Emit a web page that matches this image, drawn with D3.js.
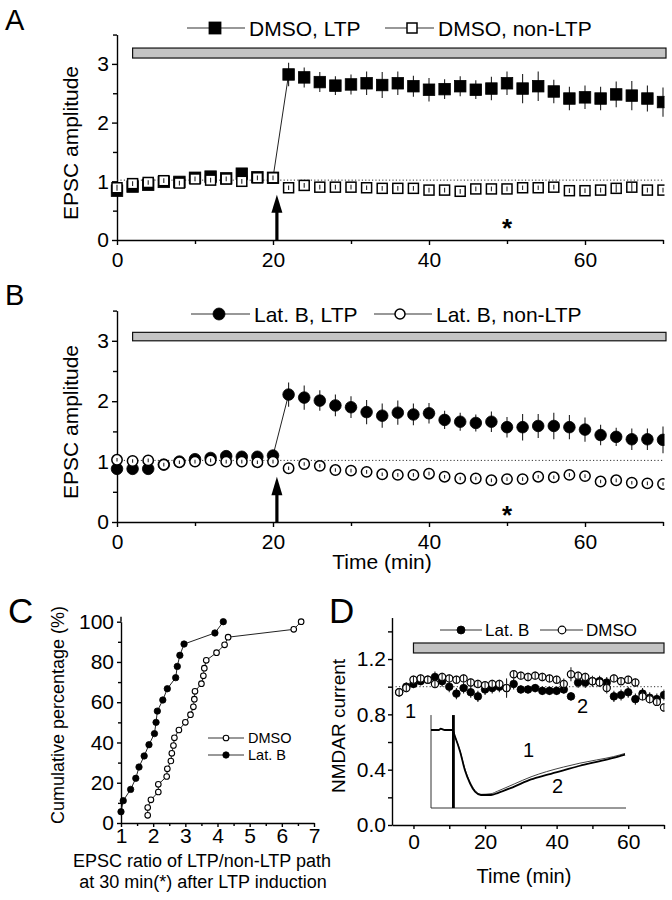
<!DOCTYPE html>
<html><head><meta charset="utf-8">
<script src="https://cdn.jsdelivr.net/npm/d3@7"></script>
<style>
body{margin:0;background:#fff}
svg{display:block}
text{font-family:"Liberation Sans",Arial,Helvetica,sans-serif;fill:#000}
</style>
</head><body>
<svg id="c" width="672" height="900"></svg>
<script>
// ---------------- DATA ----------------
const timesAB = [0,2,4,6,8,10,12,14,16,18,20,22,24,26,28,30,32,34,36,38,40,42,44,46,48,50,52,54,56,58,60,62,64,66,68,70];
const dmsoLTP    = [0.84,0.91,0.94,0.99,0.99,1.06,1.08,1.05,1.13,1.07,1.06,2.82,2.77,2.69,2.63,2.65,2.67,2.64,2.67,2.62,2.56,2.57,2.62,2.56,2.58,2.67,2.58,2.62,2.53,2.41,2.43,2.41,2.48,2.46,2.41,2.35];
const dmsoLTPerr = [0.06,0.05,0.05,0.05,0.05,0.05,0.05,0.05,0.06,0.05,0.05,0.20,0.17,0.17,0.16,0.17,0.20,0.22,0.20,0.18,0.20,0.17,0.17,0.16,0.20,0.20,0.25,0.25,0.20,0.20,0.20,0.20,0.22,0.25,0.22,0.25];
const dmsoNon    = [0.89,0.96,0.98,1.01,0.97,1.04,1.02,1.04,1.00,1.06,1.06,0.89,0.93,0.90,0.90,0.90,0.89,0.88,0.88,0.88,0.85,0.85,0.83,0.87,0.87,0.87,0.89,0.89,0.90,0.84,0.84,0.85,0.88,0.90,0.85,0.85];
const dmsoNonErr = [0.05,0.04,0.04,0.04,0.04,0.04,0.04,0.04,0.04,0.04,0.04,0.04,0.04,0.04,0.04,0.04,0.04,0.04,0.04,0.04,0.04,0.04,0.04,0.04,0.04,0.04,0.04,0.04,0.04,0.04,0.04,0.04,0.07,0.08,0.04,0.04];
const latLTP     = [0.88,0.88,0.88,0.95,1.00,1.04,1.06,1.09,1.08,1.08,1.10,2.11,2.06,2.01,1.93,1.90,1.82,1.76,1.81,1.78,1.80,1.69,1.66,1.64,1.66,1.57,1.57,1.59,1.59,1.57,1.53,1.44,1.41,1.37,1.37,1.36];
const latLTPerr  = [0.05,0.05,0.05,0.05,0.05,0.05,0.05,0.05,0.05,0.05,0.05,0.20,0.20,0.17,0.18,0.18,0.20,0.20,0.20,0.18,0.17,0.15,0.15,0.14,0.17,0.17,0.22,0.20,0.22,0.20,0.20,0.17,0.15,0.18,0.18,0.22];
const latNon     = [1.03,1.01,1.02,0.95,0.99,1.00,1.02,1.00,1.00,0.99,1.00,0.89,0.96,0.93,0.86,0.85,0.83,0.79,0.78,0.78,0.80,0.75,0.72,0.72,0.69,0.71,0.71,0.75,0.74,0.78,0.76,0.67,0.69,0.65,0.64,0.63];
const latNonErr  = [0.03,0.03,0.03,0.03,0.03,0.03,0.03,0.03,0.03,0.03,0.03,0.03,0.03,0.03,0.03,0.03,0.03,0.03,0.03,0.03,0.03,0.03,0.03,0.03,0.03,0.03,0.03,0.03,0.03,0.03,0.03,0.03,0.03,0.03,0.03,0.03];

// Panel C cumulative distributions
const cLatRatio  = [1.00,1.07,1.30,1.46,1.56,1.72,1.87,2.04,2.09,2.13,2.30,2.44,2.70,2.75,2.83,2.96,3.92,4.18];
const cLatPct    = [5.6,11.1,16.7,22.2,27.8,33.3,38.9,44.4,50.0,55.6,61.1,66.7,72.2,77.8,83.3,88.9,94.4,100];
const cDmsoRatio = [1.83,1.83,1.93,2.16,2.16,2.42,2.44,2.55,2.58,2.63,2.66,2.80,3.00,3.16,3.25,3.28,3.30,3.50,3.56,3.59,3.65,3.97,4.22,4.33,6.37,6.60];
const cDmsoPct   = [3.8,7.7,11.5,15.4,19.2,23.1,26.9,30.8,34.6,38.5,42.3,46.2,50.0,53.8,57.7,61.5,65.4,69.2,73.1,76.9,80.8,84.6,88.5,92.3,96.2,100];

// Panel D NMDAR current
const timesD  = [-4,-2,0,2,4,6,8,10,12,14,16,18,20,22,24,26,28,30,32,34,36,38,40,42,44,46,48,50,52,54,56,58,60,62,64,66,68,70];
const dLat    = [0.96,1.00,1.02,1.04,1.05,1.07,1.04,1.00,0.95,0.99,0.96,0.93,0.98,0.99,1.00,0.99,1.02,0.98,0.98,0.99,0.97,0.97,0.97,0.98,0.93,1.03,1.03,1.04,1.04,1.03,0.93,0.94,0.96,0.91,0.95,0.92,0.91,0.94];
const dLatErr = [0.03,0.03,0.03,0.03,0.03,0.04,0.04,0.04,0.04,0.04,0.04,0.04,0.04,0.04,0.04,0.06,0.04,0.03,0.03,0.03,0.03,0.03,0.03,0.03,0.03,0.04,0.04,0.04,0.04,0.04,0.04,0.04,0.04,0.04,0.04,0.04,0.04,0.04];
const dDmso   = [0.96,0.99,1.05,1.06,1.05,1.02,1.07,1.06,1.05,1.06,1.03,1.02,1.01,1.02,1.02,0.99,1.09,1.08,1.07,1.08,1.07,1.06,1.05,1.02,1.09,1.08,1.07,1.04,1.03,0.99,1.06,1.04,1.05,1.03,0.93,0.91,0.89,0.85];
const dDmsoErr= [0.03,0.03,0.03,0.03,0.03,0.03,0.03,0.03,0.03,0.03,0.03,0.03,0.03,0.03,0.03,0.07,0.03,0.03,0.03,0.03,0.03,0.03,0.03,0.04,0.05,0.03,0.03,0.03,0.03,0.04,0.03,0.03,0.03,0.03,0.03,0.03,0.03,0.03];

// Panel D inset traces (ms, normalized current)
const traceT  = [0,4,5,6,7,11,12.3,14.9,17.4,20,22.6,25.6,30.8,34.2,42.7,51.3,59.3,67.9,76.4,85,93.5,99.5];
const trace1  = [0,0,0.02,0.01,0,0,-0.10,-0.32,-0.60,-0.80,-0.93,-0.99,-0.98,-0.94,-0.83,-0.72,-0.64,-0.57,-0.51,-0.46,-0.41,-0.36];
const trace2  = [0,0,0.02,0.01,0,0,-0.10,-0.33,-0.62,-0.82,-0.95,-1.00,-1.00,-0.97,-0.87,-0.76,-0.69,-0.62,-0.55,-0.49,-0.43,-0.38];
const stimT   = 11.5;

// tick labels / annotations
const xTicksAB = [0,20,40,60], xMinorAB = [10,30,50,70];
const yTicksAB = [0,1,2,3],    yMinorAB = [0.5,1.5,2.5,3.5];
const xTicksC = [1,2,3,4,5,6,7], xMinorC = [1.5,2.5,3.5,4.5,5.5,6.5];
const yTicksC = [0,20,40,60,80,100], yMinorC = [10,30,50,70,90];
const xTicksD = [0,20,40,60], xMinorD = [10,30,50,70];
const yTicksD = [0,0.4,0.8,1.2], yMinorD = [0.2,0.6,1.0,1.4];
const drugAB = [2,70], drugD = [0,70];
const ltpTime = 20.5, starTime = 50;

// ---------------- DRAWING ----------------
const svg = d3.select('#c');

svg.append('defs').append('clipPath').attr('id','clipR')
  .append('rect').attr('x',0).attr('y',0).attr('width',664.5).attr('height',900);

function txt(x,y,s,fs,anchor){
  return svg.append('text').attr('x',x).attr('y',y).attr('font-size',fs)
    .attr('text-anchor',anchor||'start').text(s);
}
function vlabel(x,y,s,fs){
  svg.append('text').attr('transform',`translate(${x},${y}) rotate(-90)`)
    .attr('text-anchor','middle').attr('font-size',fs).text(s);
}
function styleAxis(g,fs){
  g.attr('font-family',null).attr('font-size',null);
  g.selectAll('path,line').attr('stroke','#000').attr('stroke-width',1.4);
  g.selectAll('text').attr('font-size',fs).attr('fill','#000');
}
function drawAxes(x,y,o){
  const gx = svg.append('g').attr('transform',`translate(0,${y.range()[0]})`)
    .call(d3.axisBottom(x).tickValues(o.xt).tickSize(o.ts).tickPadding(o.xp).tickSizeOuter(0).tickFormat(o.xf));
  styleAxis(gx,o.fs);
  const gxm = svg.append('g').attr('transform',`translate(0,${y.range()[0]})`)
    .call(d3.axisBottom(x).tickValues(o.xm).tickSize(o.ms).tickFormat(''));
  gxm.select('.domain').remove(); styleAxis(gxm,o.fs);
  const gy = svg.append('g').attr('transform',`translate(${x.range()[0]},0)`)
    .call(d3.axisLeft(y).tickValues(o.yt).tickSize(o.ts).tickPadding(o.yp).tickSizeOuter(0).tickFormat(o.yf));
  styleAxis(gy,o.fs);
  const gym = svg.append('g').attr('transform',`translate(${x.range()[0]},0)`)
    .call(d3.axisLeft(y).tickValues(o.ym).tickSize(o.ms).tickFormat(''));
  gym.select('.domain').remove(); styleAxis(gym,o.fs);
}
function square(g,cx,cy,s,filled){
  g.append('rect').attr('x',cx-s/2).attr('y',cy-s/2).attr('width',s).attr('height',s)
    .attr('fill',filled?'#000':'#fff').attr('stroke','#000').attr('stroke-width',filled?0.8:1.5);
}
function circle(g,cx,cy,r,filled,sw){
  g.append('circle').attr('cx',cx).attr('cy',cy).attr('r',r)
    .attr('fill',filled?'#000':'#fff').attr('stroke','#000').attr('stroke-width',filled?0.8:(sw||1.5));
}
function errbars(g,x,y,ts,vs,es){
  ts.forEach((t,i)=>{
    g.append('line').attr('x1',x(t)).attr('x2',x(t)).attr('y1',y(vs[i]-es[i])).attr('y2',y(vs[i]+es[i]))
      .attr('stroke','#222').attr('stroke-width',1.1);
  });
}
function drugBar(x,y,t0,t1,v0,v1,extra){
  svg.append('rect').attr('x',x(t0)).attr('y',y(v1)).attr('width',x(t1)-x(t0)+(extra||0)).attr('height',y(v0)-y(v1))
    .attr('fill','#c4c4c4').attr('stroke','#111').attr('stroke-width',1.2);
}
function arrow(x,y,t,v0,vBase,vTip){
  const cx=x(t);
  svg.append('rect').attr('x',cx-1.6).attr('y',y(vBase)).attr('width',3.2).attr('height',y(v0)-y(vBase)).attr('fill','#000');
  svg.append('path').attr('d',`M${cx-5.5},${y(vBase)+1}L${cx},${y(vTip)}L${cx+5.5},${y(vBase)+1}Z`).attr('fill','#000');
}
function dotted(x,y,t0,t1,v){
  svg.append('line').attr('x1',x(t0)).attr('x2',x(t1)).attr('y1',y(v)).attr('y2',y(v))
    .attr('stroke','#333').attr('stroke-width',1).attr('stroke-dasharray','1.2,2.2');
}
function star(x,y,t,v,fs){
  txt(x(t),y(v)+fs*0.58,'*',fs,'middle').attr('font-weight','bold');
}

// ============ Panel A ============
const xA = d3.scaleLinear([0,70],[117,663]);
const yA = d3.scaleLinear([0,3.5],[240,240-3.5*58.7]);
txt(5,30,'A',29);
drawAxes(xA,yA,{xt:xTicksAB,xm:xMinorAB,yt:yTicksAB,ym:yMinorAB,ts:5,ms:4,xp:7,yp:3,fs:21,xf:d3.format('d'),yf:d3.format('d')});
vlabel(78,143,'EPSC amplitude',21);
drugBar(xA,yA,drugAB[0],drugAB[1],3.1,3.27,3);
dotted(xA,yA,0,70,1.02);
arrow(xA,yA,ltpTime,0,0.48,0.77);
star(xA,yA,starTime,0.3,26);
{
  const g = svg.append('g').attr('clip-path','url(#clipR)');
  g.append('path').attr('d',d3.line()([[xA(timesAB[10]),yA(dmsoLTP[10])],[xA(timesAB[11]),yA(dmsoLTP[11])]]))
    .attr('stroke','#222').attr('stroke-width',1).attr('fill','none');
  errbars(g,xA,yA,timesAB,dmsoLTP,dmsoLTPerr);
  timesAB.forEach((t,i)=>square(g,xA(t),yA(dmsoLTP[i]),11.5,true));
  timesAB.forEach((t,i)=>square(g,xA(t),yA(dmsoNon[i]),10,false));
  errbars(g,xA,yA,timesAB,dmsoNon,dmsoNonErr);
}
{
  const ly=28;
  svg.append('line').attr('x1',187).attr('x2',245).attr('y1',ly).attr('y2',ly).attr('stroke','#333').attr('stroke-width',1.2);
  square(svg,215,ly,12,true);
  txt(249,ly+7.5,'DMSO, LTP',21);
  svg.append('line').attr('x1',385).attr('x2',434).attr('y1',ly).attr('y2',ly).attr('stroke','#333').attr('stroke-width',1.2);
  square(svg,412,ly,10,false);
  txt(438,ly+7.5,'DMSO, non-LTP',21);
}

// ============ Panel B ============
const xB = d3.scaleLinear([0,70],[117,663]);
const yB = d3.scaleLinear([0,3.5],[522,522-3.5*60.4]);
txt(5,305,'B',29);
drawAxes(xB,yB,{xt:xTicksAB,xm:xMinorAB,yt:yTicksAB,ym:yMinorAB,ts:5,ms:4,xp:7,yp:3,fs:21,xf:d3.format('d'),yf:d3.format('d')});
vlabel(78,422,'EPSC amplitude',21);
txt(382,569,'Time (min)',21,'middle');
drugBar(xB,yB,drugAB[0],drugAB[1],3.0,3.14,3);
dotted(xB,yB,0,70,1.02);
arrow(xB,yB,ltpTime,0,0.46,0.75);
star(xB,yB,starTime,0.21,26);
{
  const g = svg.append('g').attr('clip-path','url(#clipR)');
  g.append('path').attr('d',d3.line()([[xB(timesAB[10]),yB(latLTP[10])],[xB(timesAB[11]),yB(latLTP[11])]]))
    .attr('stroke','#222').attr('stroke-width',1).attr('fill','none');
  errbars(g,xB,yB,timesAB,latLTP,latLTPerr);
  timesAB.forEach((t,i)=>circle(g,xB(t),yB(latLTP[i]),5.8,true));
  timesAB.forEach((t,i)=>circle(g,xB(t),yB(latNon[i]),5.2,false));
  errbars(g,xB,yB,timesAB,latNon,latNonErr);
}
{
  const ly=314;
  svg.append('line').attr('x1',191).attr('x2',250).attr('y1',ly).attr('y2',ly).attr('stroke','#333').attr('stroke-width',1.2);
  circle(svg,219,ly,6,true);
  txt(254,ly+7.5,'Lat. B, LTP',21);
  svg.append('line').attr('x1',374).attr('x2',432).attr('y1',ly).attr('y2',ly).attr('stroke','#333').attr('stroke-width',1.2);
  circle(svg,400,ly,5,false);
  txt(436,ly+7.5,'Lat. B, non-LTP',21);
}

// ============ Panel C ============
const xC = d3.scaleLinear([1,7],[121,314]);
const yC = d3.scaleLinear([0,100],[823,621.7]);
txt(8,623,'C',35);
drawAxes(xC,yC,{xt:xTicksC,xm:xMinorC,yt:yTicksC,ym:yMinorC,ts:4,ms:3,xp:1,yp:3,fs:21,xf:d3.format('d'),yf:d3.format('d')});
svg.append('line').attr('x1',xC(1)).attr('x2',xC(1)).attr('y1',yC(100)).attr('y2',yC(102.5)).attr('stroke','#000').attr('stroke-width',1.4);
vlabel(64,715,'Cumulative percentage (%)',18);
txt(202,867,'EPSC ratio of LTP/non-LTP path',18,'middle');
txt(203,888,'at 30 min(*) after LTP induction',18,'middle');
{
  const g = svg.append('g');
  const line = d3.line();
  g.append('path').attr('d',line(cDmsoRatio.map((r,i)=>[xC(r),yC(cDmsoPct[i])]))).attr('fill','none').attr('stroke','#222').attr('stroke-width',1);
  g.append('path').attr('d',line(cLatRatio.map((r,i)=>[xC(r),yC(cLatPct[i])]))).attr('fill','none').attr('stroke','#222').attr('stroke-width',1);
  cDmsoRatio.forEach((r,i)=>circle(g,xC(r),yC(cDmsoPct[i]),2.8,false,1.1));
  cLatRatio.forEach((r,i)=>circle(g,xC(r),yC(cLatPct[i]),3.2,true));
  svg.append('line').attr('x1',208).attr('x2',244).attr('y1',738).attr('y2',738).attr('stroke','#333').attr('stroke-width',1);
  circle(svg,226,738,2.8,false,1.1);
  txt(248,743,'DMSO',14.5);
  svg.append('line').attr('x1',208).attr('x2',244).attr('y1',755).attr('y2',755).attr('stroke','#333').attr('stroke-width',1);
  circle(svg,226,755,3.2,true);
  txt(248,760,'Lat. B',14.5);
}

// ============ Panel D ============
const xD = d3.scaleLinear([-6,70],[392,664]);
const yD = d3.scaleLinear([0,1.5],[825,825-1.5*138.3]);
txt(329,623,'D',35);
drawAxes(xD,yD,{xt:xTicksD,xm:xMinorD,yt:yTicksD,ym:yMinorD,ts:4,ms:4,xp:5,yp:2,fs:21,xf:d3.format('d'),yf:d3.format('.1f')});
vlabel(345,726,'NMDAR current',19);
txt(524,883,'Time (min)',20,'middle');
drugBar(xD,yD,drugD[0],drugD[1],1.244,1.316,0);
dotted(xD,yD,-5,70,1.0);
{
  const g = svg.append('g').attr('clip-path','url(#clipR)');
  errbars(g,xD,yD,timesD,dLat,dLatErr);
  timesD.forEach((t,i)=>circle(g,xD(t),yD(dLat[i]),3.8,true));
  timesD.forEach((t,i)=>circle(g,xD(t),yD(dDmso[i]),3.6,false,1.2));
  errbars(g,xD,yD,timesD,dDmso,dDmsoErr);
}
txt(405,718,'1',20);
txt(577,713,'2',20);
{
  const ly=630;
  svg.append('line').attr('x1',440).attr('x2',482).attr('y1',ly).attr('y2',ly).attr('stroke','#333').attr('stroke-width',1.2);
  circle(svg,461,ly,4,true);
  txt(485,ly+6,'Lat. B',17);
  svg.append('line').attr('x1',540).attr('x2',583).attr('y1',ly).attr('y2',ly).attr('stroke','#333').attr('stroke-width',1.2);
  circle(svg,562,ly,3.8,false,1.2);
  txt(586,ly+6,'DMSO',17);
}
{
  const xi = d3.scaleLinear([0,100],[431,626]);
  const yi = d3.scaleLinear([-1,0],[795,730]);
  const g = svg.append('g');
  g.append('line').attr('x1',xi(0)).attr('x2',xi(0)).attr('y1',yi(0.23)).attr('y2',yi(-1.2)).attr('stroke','#333').attr('stroke-width',1);
  g.append('line').attr('x1',xi(0)).attr('x2',xi(100)).attr('y1',yi(-1.2)).attr('y2',yi(-1.2)).attr('stroke','#333').attr('stroke-width',1);
  const ln = d3.line().x((d,i)=>xi(traceT[i])).y(d=>yi(d)).curve(d3.curveMonotoneX);
  g.append('path').attr('d',ln(trace1)).attr('fill','none').attr('stroke','#444').attr('stroke-width',1);
  g.append('path').attr('d',ln(trace2)).attr('fill','none').attr('stroke','#000').attr('stroke-width',1.8);
  g.append('line').attr('x1',xi(stimT)).attr('x2',xi(stimT)).attr('y1',yi(0.23)).attr('y2',yi(-1.2)).attr('stroke','#000').attr('stroke-width',2.8);
  txt(523,757,'1',20);
  txt(552,793,'2',20);
}
</script>
</body></html>
